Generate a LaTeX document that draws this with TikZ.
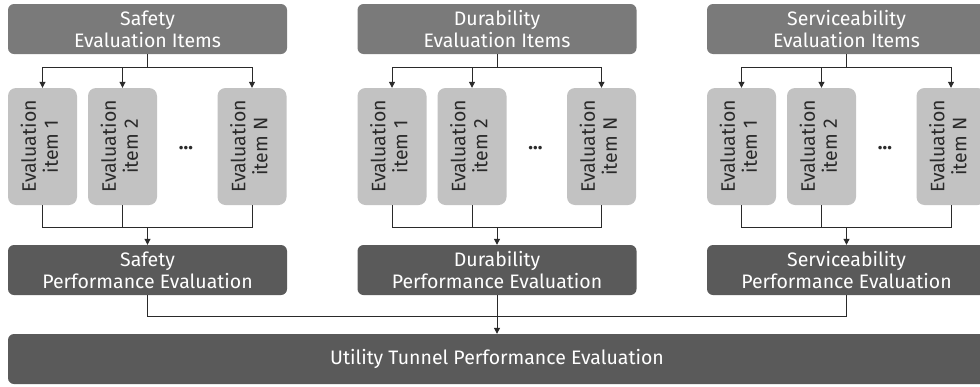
\documentclass[tikz,border=0pt]{standalone}
\usepackage{fontspec}
\setmainfont{Fira Sans}
\usepackage{graphicx}
\usetikzlibrary{arrows.meta, positioning}
\definecolor{hdrgray}{HTML}{7A7A7A}
\definecolor{evalgray}{HTML}{5A5A5A}
\definecolor{itemgray}{HTML}{C2C2C2}
\definecolor{inkgray}{HTML}{2A2A2A}
\newcommand{\vtext}[1]{\rotatebox{90}{\begin{tabular}{@{}c@{}}#1\end{tabular}}}

\begin{document}
\begin{tikzpicture}[
    x=1pt, y=-1pt,
    hdr/.style = {rectangle, rounded corners=6pt, fill=hdrgray, text=white,
                  minimum width=279pt, minimum height=50pt, inner sep=0pt, align=center},
    evalbox/.style = {hdr, fill=evalgray},
    itembox/.style = {rectangle, rounded corners=8pt, fill=itemgray, text=inkgray,
                  minimum width=69pt, minimum height=117pt, inner sep=0pt},
    pil/.style = {inkgray, line width=1pt, -{Triangle[length=6pt,width=6pt]}},
    wire/.style = {inkgray, line width=1pt},
    font=\fontsize{19.5}{22}\selectfont
    ]
  \useasboundingbox (0,0) rectangle (980,386);

  \foreach \g/\name/\gx in {s/Safety/0, d/Durability/349.5, v/Serviceability/699} {
    \node[hdr] (top-\g) at (147.5+\gx, 29) {\name\\Evaluation Items} ;
    \node[itembox] (i1-\g) at (42.5+\gx, 146.5) {\vtext{Evaluation\\item 1}} ;
    \node[itembox] (i2-\g) at (122.5+\gx, 146.5) {\vtext{Evaluation\\item 2}} ;
    \node[itembox] (iN-\g) at (252+\gx, 146.5) {\vtext{Evaluation\\item N}} ;
    \node[text=inkgray] (dots-\g) at (186+\gx, 148) {\textbf{…}} ;
    \node[evalbox] (ev-\g) at (147.5+\gx, 270) {\name\\Performance Evaluation} ;

    \coordinate (up-\g) at (147.5+\gx, 67) ;
    \coordinate (dn-\g) at (147.5+\gx, 227) ;

    \draw[wire] (top-\g.south) -- (up-\g) ;
    \draw[pil] (up-\g) -| (i1-\g.north) ;
    \draw[pil] (up-\g) -| (i2-\g.north) ;
    \draw[pil] (up-\g) -| (iN-\g.north) ;

    \draw[wire] (i1-\g.south) |- (dn-\g) ;
    \draw[wire] (iN-\g.south) |- (dn-\g) ;
    \draw[wire] (i2-\g.south) -- (i2-\g.south |- dn-\g) ;
    \draw[pil] (dn-\g) -- (ev-\g.north) ;
  }

  \node[evalbox, minimum width=978pt] (total) at (497, 359) {Utility Tunnel Performance Evaluation} ;
  \coordinate (bus) at (497, 316) ;

  \draw[wire] (ev-s.south) |- (bus) ;
  \draw[wire] (ev-v.south) |- (bus) ;
  \draw[pil] (ev-d.south) -- (total.north) ;
\end{tikzpicture}
\end{document}
